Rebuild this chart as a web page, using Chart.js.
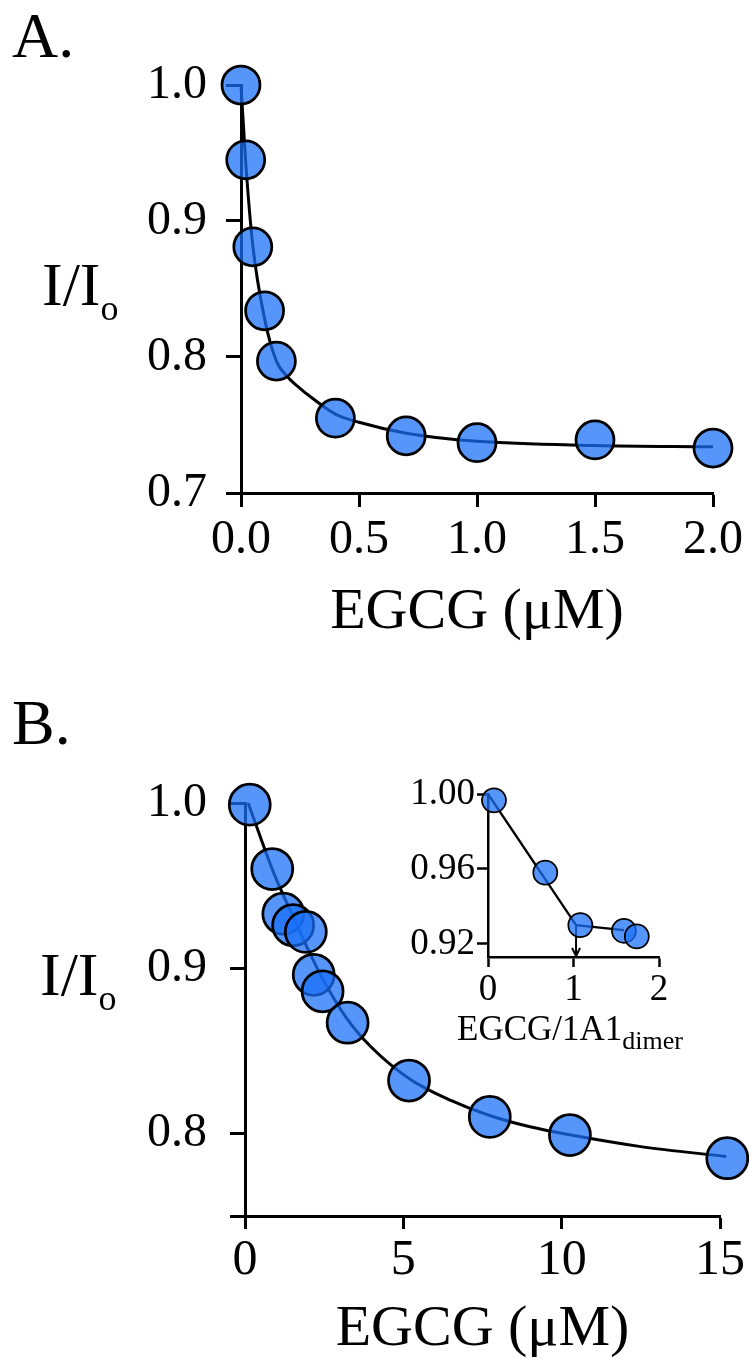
<!DOCTYPE html>
<html>
<head>
<meta charset="utf-8">
<script src="https://cdn.jsdelivr.net/npm/chart.js@4.4.1/dist/chart.umd.min.js"></script>
<style>
  body { margin: 0; background: #fff; }
  #wrap { position: relative; width: 749px; height: 1359px; overflow: hidden; font-family: "Liberation Serif", serif; }
  canvas { position: absolute; }
  .lbl { position: absolute; white-space: nowrap; line-height: 1; color: #000; }
  .sub { position: relative; }
</style>
</head>
<body>
<div id="wrap">
  <canvas id="chartA" width="749" height="680" style="left:0;top:0"></canvas>
  <canvas id="chartB" width="749" height="679" style="left:0;top:680px"></canvas>
  <canvas id="chartInset" width="389" height="330" style="left:360px;top:740px"></canvas>

  <div class="lbl" style="left:12px;top:4px;font-size:64px">A.</div>
  <div class="lbl" style="left:42px;top:253px;font-size:62px">I/I<span class="sub" style="font-size:36px;top:15px">o</span></div>

  <div class="lbl" style="left:12px;top:691px;font-size:64px">B.</div>
  <div class="lbl" style="left:40px;top:943px;font-size:62px">I/I<span class="sub" style="font-size:36px;top:15px">o</span></div>
  <div class="lbl" style="left:457px;top:1011px;font-size:35px">EGCG/1A1<span class="sub" style="font-size:26px;top:9px">dimer</span></div>
</div>

<script>
// Panel A: fluorescence quenching vs EGCG
var xA = [0, 0.02, 0.05, 0.1, 0.15, 0.4, 0.7, 1.0, 1.5, 2.0];
var yA = [1.0, 0.945, 0.881, 0.834, 0.797, 0.755, 0.742, 0.737, 0.739, 0.733];
// fitted curve
var fitXA = [0, 0.02, 0.05, 0.1, 0.15, 0.2, 0.25, 0.3, 0.4, 0.5, 0.7, 1.0, 1.5, 2.0];
var fitYA = [1.0, 0.943, 0.882, 0.828, 0.797, 0.785, 0.777, 0.770, 0.758, 0.752, 0.744, 0.738, 0.735, 0.734];
var xTicksA = [0, 0.5, 1.0, 1.5, 2.0];
var yTicksA = [0.7, 0.8, 0.9, 1.0];

// Panel B
var xB = [0.15, 0.86, 1.21, 1.52, 1.92, 2.17, 2.45, 3.24, 5.18, 7.73, 10.26, 15.23];
var yB = [0.999, 0.960, 0.933, 0.926, 0.922, 0.896, 0.886, 0.867, 0.832, 0.810, 0.799, 0.785];
var fitXB = [0.1, 0.9, 1.5, 2.0, 2.5, 3.2, 4.0, 5.2, 6.5, 7.7, 9.0, 10.3, 12.5, 15.2];
var fitYB = [1.0, 0.958, 0.932, 0.911, 0.892, 0.870, 0.852, 0.833, 0.820, 0.811, 0.804, 0.799, 0.792, 0.786];
var xTicksB = [0, 5, 10, 15];
var yTicksB = [0.75, 0.8, 0.9, 1.0];

// Inset: EGCG / 1A1 dimer ratio
var xIn = [0.07, 0.67, 1.08, 1.59, 1.74];
var yIn = [0.9966, 0.958, 0.930, 0.927, 0.924];
var lineXIn = [0, 1.03, 1.59];
var lineYIn = [1.0, 0.930, 0.9273];
var xTicksIn = [0, 1, 2];
var yTicksIn = [0.92, 0.96, 1.00];
var arrowXIn = 1.03;
var arrowFromIn = 0.930;
var arrowToIn = 0.9135;

var FONT = "'Liberation Serif', serif";
var DOT = 'rgba(24, 112, 248, 0.735)';
Chart.defaults.color = '#000';
Chart.defaults.font.family = FONT;

function pts(xs, ys) {
  return xs.map(function (x, i) { return { x: x, y: ys[i] }; });
}

function fixTicks(list) {
  return function (scale) {
    scale.ticks = list.map(function (v) { return { value: v }; });
  };
}

function axis(o) {
  return {
    type: 'linear',
    min: o.min,
    max: o.max,
    afterBuildTicks: fixTicks(o.ticks),
    afterFit: o.fit,
    ticks: {
      font: { family: FONT, size: o.fontSize },
      color: '#000',
      padding: o.pad,
      maxRotation: 0,
      autoSkip: false,
      callback: o.fmt
    },
    grid: { drawOnChartArea: false, drawTicks: true, tickLength: o.tickLen, tickWidth: o.lw, tickColor: '#000' },
    border: { display: true, color: '#000', width: o.lw },
    title: o.title || { display: false }
  };
}

function baseOptions(padding, xAxis, yAxis) {
  return {
    responsive: false,
    animation: false,
    events: [],
    layout: { padding: padding },
    plugins: { legend: { display: false }, tooltip: { enabled: false } },
    scales: { x: xAxis, y: yAxis }
  };
}

/* PAINEL A */
new Chart(document.getElementById('chartA').getContext('2d'), {
  type: 'scatter',
  data: {
    datasets: [{
      data: pts(fitXA, fitYA), showLine: true, pointRadius: 0,
      borderColor: '#000', borderWidth: 3, cubicInterpolationMode: 'monotone', order: 2, clip: false
    }, {
      data: pts(xA, yA), pointRadius: 19, backgroundColor: DOT,
      borderColor: '#000', borderWidth: 2.75, order: 1, clip: false
    }]
  },
  options: baseOptions({ left: 0, top: 85, right: 36, bottom: 0 },
    axis({ min: 0, max: 2, ticks: xTicksA, fontSize: 48, pad: 5, tickLen: 14, lw: 3,
      fmt: function (v) { return v.toFixed(1); },
      fit: function (s) { s.height = 187; },
      title: { display: true, text: 'EGCG (μM)', color: '#000',
        font: { family: FONT, size: 58, lineHeight: 1 }, padding: { top: 0, bottom: 38 } } }),
    axis({ min: 0.7, max: 1.0, ticks: yTicksA, fontSize: 48, pad: 19, tickLen: 15, lw: 3,
      fmt: function (v) { return v.toFixed(1); },
      fit: function (s) { s.width = 241; } }))
});

/* PAINEL B */
new Chart(document.getElementById('chartB').getContext('2d'), {
  type: 'scatter',
  data: {
    datasets: [{
      data: pts(fitXB, fitYB), showLine: true, pointRadius: 0,
      borderColor: '#000', borderWidth: 3, cubicInterpolationMode: 'monotone', order: 2, clip: false
    }, {
      data: pts(xB, yB), pointRadius: 20.5, backgroundColor: DOT,
      borderColor: '#000', borderWidth: 2.75, order: 1, clip: false
    }]
  },
  options: baseOptions({ left: 0, top: 123, right: 29, bottom: 0 },
    axis({ min: 0, max: 15, ticks: xTicksB, fontSize: 50, pad: 2, tickLen: 13, lw: 3,
      fmt: function (v) { return String(v); },
      fit: function (s) { s.height = 143; },
      title: { display: true, text: 'EGCG (μM)', color: '#000',
        font: { family: FONT, size: 58, lineHeight: 1 }, padding: { top: 0, bottom: 0 } } }),
    axis({ min: 0.75, max: 1.0, ticks: yTicksB, fontSize: 48, pad: 23, tickLen: 15, lw: 3,
      fmt: function (v, i) { return i === 0 ? '' : v.toFixed(1); },
      fit: function (s) { s.width = 245; } }))
});

/* INSET: arrow drawn through the scales, under the dots */
var arrowPlugin = {
  id: 'arrow',
  beforeDatasetsDraw: function (chart) {
    var ctx = chart.ctx;
    var px = chart.scales.x.getPixelForValue(arrowXIn);
    var y0 = chart.scales.y.getPixelForValue(arrowFromIn);
    var y1 = chart.scales.y.getPixelForValue(arrowToIn);
    ctx.save();
    ctx.strokeStyle = '#000';
    ctx.lineWidth = 2;
    ctx.beginPath();
    ctx.moveTo(px, y0);
    ctx.lineTo(px, y1);
    ctx.moveTo(px - 4, y1 - 8);
    ctx.lineTo(px, y1);
    ctx.lineTo(px + 4, y1 - 8);
    ctx.stroke();
    ctx.restore();
  }
};

new Chart(document.getElementById('chartInset').getContext('2d'), {
  type: 'scatter',
  data: {
    datasets: [{
      data: pts(lineXIn, lineYIn), showLine: true, pointRadius: 0,
      borderColor: '#000', borderWidth: 2.25, tension: 0, order: 2, clip: false
    }, {
      data: pts(xIn, yIn), pointRadius: 12, backgroundColor: DOT,
      borderColor: '#000', borderWidth: 1.75, order: 1, clip: false
    }]
  },
  options: baseOptions({ left: 0, top: 54, right: 90, bottom: 0 },
    axis({ min: 0, max: 2, ticks: xTicksIn, fontSize: 37, pad: 1, tickLen: 10, lw: 2.5,
      fmt: function (v) { return String(v); },
      fit: function (s) { s.height = 113; } }),
    axis({ min: 0.913, max: 1.0, ticks: yTicksIn, fontSize: 37, pad: 2, tickLen: 11, lw: 2.5,
      fmt: function (v) { return v.toFixed(2); },
      fit: function (s) { s.width = 128; } })),
  plugins: [arrowPlugin]
});
</script>
</body>
</html>
